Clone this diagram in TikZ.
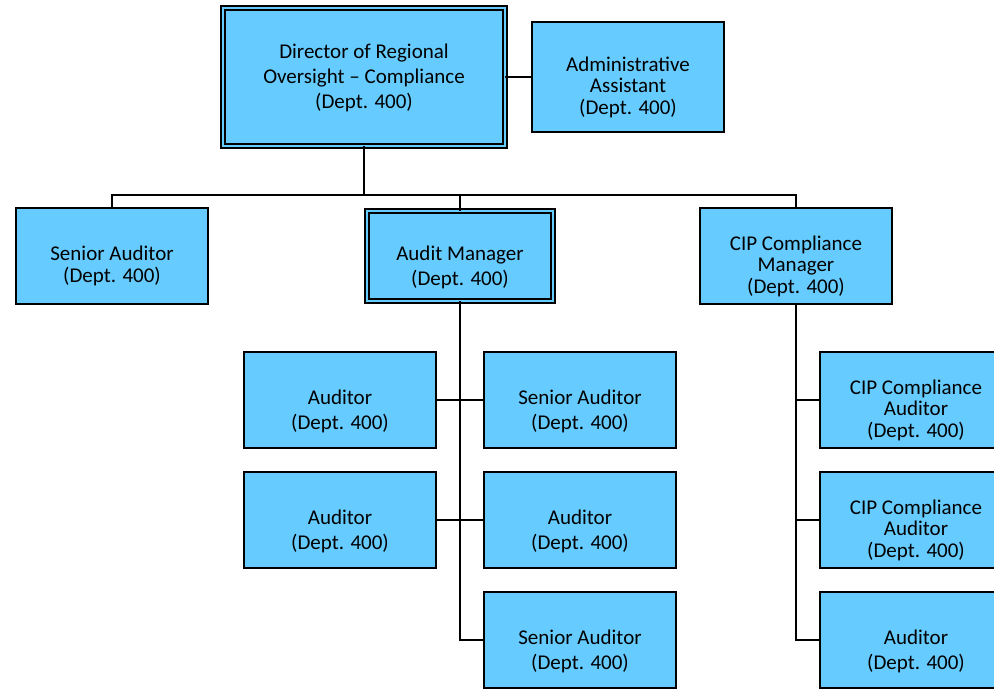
\documentclass[tikz,border=0pt]{standalone}
\usepackage{fontspec}
\setmainfont{Carlito}
\definecolor{boxblue}{HTML}{66CCFF}
\begin{document}
\begin{tikzpicture}[x=1pt,y=-1pt,
  box/.style={draw=black, line width=1.4pt, fill=boxblue, minimum width=192pt, minimum height=96pt,
    inner sep=0pt, outer sep=0pt},
  dbox/.style={box, double=boxblue, double distance=2.4pt, line width=2pt},
  txtw/.style={align=center, inner sep=0pt, font=\fontsize{21}{25}\selectfont},
  txtn/.style={align=center, inner sep=0pt, font=\fontsize{21}{21.5}\selectfont},
  conn/.style={draw=black, line width=1.4pt}]
\useasboundingbox (0,0) rectangle (994,689);
% boxes
\node[dbox, minimum width=282pt, minimum height=138pt] (dir) at (364,77) {};
\node[box, minimum height=110pt] (adm) at (628,77) {};
\node[box] (sa) at (112,256) {};
\node[dbox, minimum width=186pt, minimum height=90pt] (am) at (460,256) {};
\node[box] (cm) at (796,256) {};
\node[box] (a1) at (340,400) {};
\node[box] (a2) at (340,520) {};
\node[box] (b1) at (580,400) {};
\node[box] (b2) at (580,520) {};
\node[box] (b3) at (580,640) {};
\node[box] (c1) at (916,400) {};
\node[box] (c2) at (916,520) {};
\node[box] (c3) at (916,640) {};
% texts
\node[txtw] (dirt) at ([yshift=-1pt]dir.center) {Director of Regional\\Oversight -- Compliance\\(Dept. 400)};
\node[txtn] (admt) at ([yshift=-10pt]adm.center) {Administrative\\Assistant\\(Dept. 400)};
\node[txtn] (sat) at ([yshift=-10pt]sa.center) {Senior Auditor\\(Dept. 400)};
\node[txtw] (amt) at ([yshift=-11.5pt]am.center) {Audit Manager\\(Dept. 400)};
\node[txtn] (cmt) at ([yshift=-10pt]cm.center) {CIP Compliance\\Manager\\(Dept. 400)};
\node[txtw] (a1t) at ([yshift=-11.5pt]a1.center) {Auditor\\(Dept. 400)};
\node[txtw] (a2t) at ([yshift=-11.5pt]a2.center) {Auditor\\(Dept. 400)};
\node[txtw] (b1t) at ([yshift=-11.5pt]b1.center) {Senior Auditor\\(Dept. 400)};
\node[txtw] (b2t) at ([yshift=-11.5pt]b2.center) {Auditor\\(Dept. 400)};
\node[txtw] (b3t) at ([yshift=-11.5pt]b3.center) {Senior Auditor\\(Dept. 400)};
\node[txtn] (c1t) at ([yshift=-10pt]c1.center) {CIP Compliance\\Auditor\\(Dept. 400)};
\node[txtn] (c2t) at ([yshift=-10pt]c2.center) {CIP Compliance\\Auditor\\(Dept. 400)};
\node[txtw] (c3t) at ([yshift=-11.5pt]c3.center) {Auditor\\(Dept. 400)};
% connectors
\coordinate (bus) at (364,195);
\coordinate (cmb) at (796,400);
\coordinate (cmc) at (796,520);
\draw[conn] (dir.east) -- (adm.west);
\draw[conn] (dir.south) -- (bus);
\draw[conn] (sa.north) |- (bus) -| (cm.north);
\draw[conn] (bus) -| (am.north);
\draw[conn] (am.south) |- (b3.west);
\draw[conn] (a1.east) -- (b1.west);
\draw[conn] (a2.east) -- (b2.west);
\draw[conn] (cm.south) |- (c3.west);
\draw[conn] (cmb) -- (c1.west);
\draw[conn] (cmc) -- (c2.west);
\end{tikzpicture}
\end{document}
